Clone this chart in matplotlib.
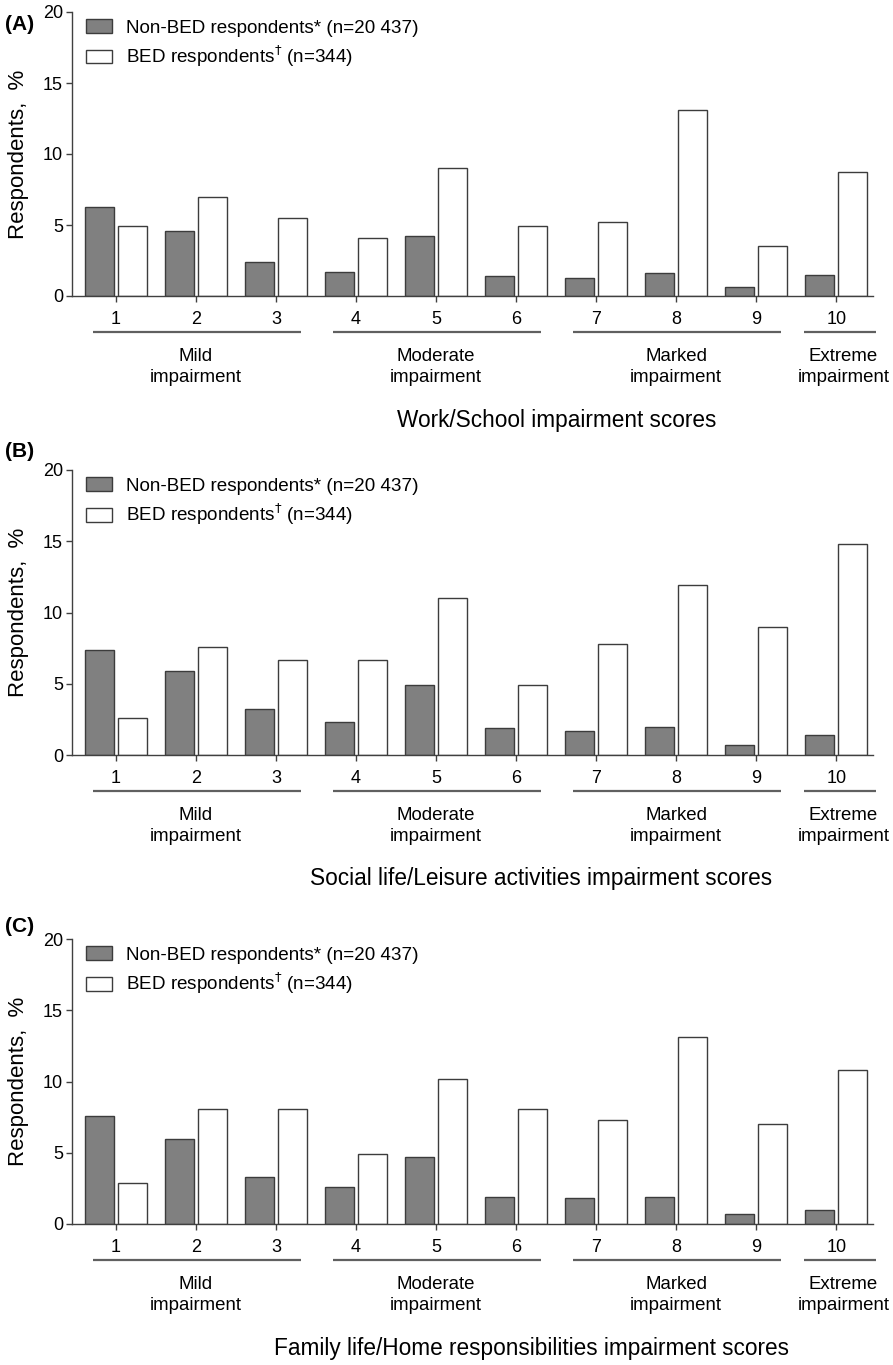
import matplotlib
matplotlib.use("Agg")
import matplotlib.pyplot as plt
import numpy as np

plt.rcParams['font.family'] = ['Liberation Sans', 'DejaVu Sans']
plt.rcParams['mathtext.fontset'] = 'dejavusans'

scores = [1, 2, 3, 4, 5, 6, 7, 8, 9, 10]

work_non = [6.3, 4.6, 2.4, 1.7, 4.2, 1.4, 1.3, 1.6, 0.6, 1.5]
work_bed = [4.9, 7.0, 5.5, 4.1, 9.0, 4.9, 5.2, 13.1, 3.5, 8.7]
social_non = [7.4, 5.9, 3.2, 2.3, 4.9, 1.9, 1.7, 2.0, 0.7, 1.4]
social_bed = [2.6, 7.6, 6.7, 6.7, 11.0, 4.9, 7.8, 11.9, 9.0, 14.8]
family_non = [7.6, 6.0, 3.3, 2.6, 4.7, 1.9, 1.8, 1.9, 0.7, 1.0]
family_bed = [2.9, 8.1, 8.1, 4.9, 10.2, 8.1, 7.3, 13.1, 7.0, 10.8]

panel_tags = ['(A)', '(B)', '(C)']
panel_titles = ['Work/School impairment scores',
                'Social life/Leisure activities impairment scores',
                'Family life/Home responsibilities impairment scores']
group_names = ['Mild\nimpairment', 'Moderate\nimpairment',
               'Marked\nimpairment', 'Extreme\nimpairment']
group_scores = [(1, 3), (4, 6), (7, 9), (10, 10)]

label_non = 'Non-BED respondents* (n=20 437)'
label_bed = r'BED respondents$^{\dagger}$ (n=344)'

W, H = 893, 1365
fig = plt.figure(figsize=(W / 100, H / 100), dpi=100)

# pixel boxes of the three axes: (left, top, right, bottom)
boxes = [(72, 12, 873, 296), (72, 470, 873, 755), (72, 939, 873, 1224)]
tag_y = [24, 452, 927]
title_x = [557, 541, 531]

data = [(work_non, work_bed), (social_non, social_bed), (family_non, family_bed)]
x = np.array(scores)
bw = 0.36
edge = '#3c3c3c'

for i, (non, bed) in enumerate(data):
    l, t, r, b = boxes[i]
    ax = fig.add_axes([l / W, 1 - b / H, (r - l) / W, (b - t) / H])
    ax.bar(x - 0.205, non, width=bw, color='#808080', edgecolor=edge,
           linewidth=1.0, label=label_non)
    ax.bar(x + 0.205, bed, width=bw, color='white', edgecolor=edge,
           linewidth=1.0, label=label_bed)

    ax.set_xlim(0.45, 10.46)
    ax.set_ylim(0, 20)
    ax.set_yticks([0, 5, 10, 15, 20])
    ax.set_xticks(scores)
    for s in ['top', 'right']:
        ax.spines[s].set_visible(False)
    for s in ['left', 'bottom']:
        ax.spines[s].set_color('#404040')
        ax.spines[s].set_linewidth(1.0)
    ax.tick_params(axis='y', length=4.5, width=1, color='#404040',
                   labelsize=13, pad=2)
    ax.tick_params(axis='x', length=4.5, width=1, color='#404040',
                   labelsize=13, pad=6)

    ax.set_ylabel('Respondents,  %', fontsize=16)
    ax.yaxis.set_label_coords(-0.054, 0.5)

    ax.legend(loc='upper left', bbox_to_anchor=(0.0175, 0.975),
              frameon=False, fontsize=13.6, borderaxespad=0, borderpad=0,
              handlelength=1.38, handleheight=0.74, handletextpad=0.74,
              labelspacing=0.38)

    # impairment group lines and labels under the axis
    trans = ax.get_xaxis_transform()
    for name, (a, z) in zip(group_names, group_scores):
        if a == z:
            lo, hi = a - 0.4, z + 0.5
            cx = a + 0.09
        else:
            lo, hi = a - 0.29, z + 0.31
            cx = (a + z) / 2
        ax.plot([lo, hi], [-0.127, -0.127], transform=trans, clip_on=False,
                color='#606060', lw=1.6, solid_capstyle='butt')
        ax.text(cx, -0.182, name, transform=trans, ha='center', va='top',
                fontsize=13.4, linespacing=1.3)

    fig.text(title_x[i] / W, 1 - (b + 124) / H, panel_titles[i],
             ha='center', va='center', fontsize=16.3)
    fig.text(5 / W, 1 - tag_y[i] / H, panel_tags[i], ha='left',
             va='center', fontsize=15, fontweight='bold')

fig.savefig('out.png', dpi=100)
